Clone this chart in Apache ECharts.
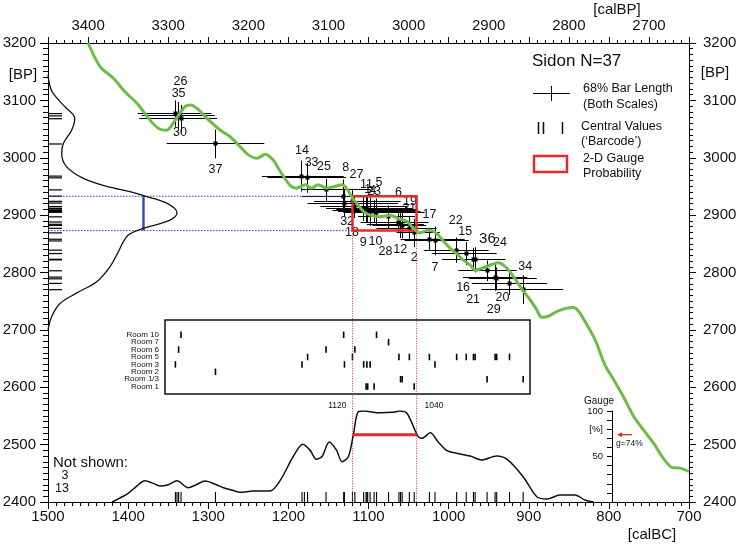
<!DOCTYPE html>
<html>
<head>
<meta charset="utf-8">
<script src="https://cdn.jsdelivr.net/npm/echarts@6/dist/echarts.min.js"></script>
<style>
  html, body { margin: 0; padding: 0; background: #fff; }
  #chart { width: 739px; height: 546px; }
</style>
</head>
<body>
<div id="chart"></div>
<script>
const FONT = '"Liberation Sans", Arial, sans-serif'

// calibration curve (green), calBC vs BP
const calCurveBC = [1450,1435,1418,1404,1389,1373,1362,1352,1341,1329,1322,1314,1302,1285,1273,1260,1250,1239,1229,1219,1210,1198,1190,1179,1171,1163,1152,1142,1133,1127,1121,1115,1106,1098,1086,1073,1063,1052,1044,1036,1025,1015,1006,998,990,982,973,967,959,948,938,929,919,909,898,890,884,875,865,855,844,838,832,817,805,794,782,769,757,744,732,721,711,700]
const calCurveBP = [3200,3159,3138,3115,3095,3066,3051,3048,3066,3089,3092,3086,3069,3048,3037,3019,3005,2999,3006,2996,2976,2952,2947,2953,2947,2953,2947,2950,2953,2946,2932,2921,2906,2900,2897,2900,2894,2889,2877,2869,2874,2868,2854,2842,2833,2822,2813,2804,2807,2813,2817,2810,2793,2772,2752,2735,2722,2724,2732,2737,2739,2733,2720,2682,2639,2613,2584,2549,2526,2502,2476,2460,2459,2453]

// samples (shown): central calBC, central BP, 68% calBC range, BP error, room
const sampleIds    = [26,35,30,37,14,33,25,8,27,11,5,4,32,18,1,9,23,10,6,19,28,12,31,2,17,7,22,15,36,24,16,21,29,20,34]
const sampleBC     = [1341,1337,1334,1291,1183,1176,1153,1131,1130,1120,1117,1106,1103,1102,1101,1098,1093,1090,1075,1062,1060,1058,1049,1043,1024,1017,990,978,969,967,952,942,940,924,907]
const sampleBP     = [3077,3073,3068,3024,2968,2965,2944,2933,2921,2924,2915,2912,2911,2908,2909,2906,2906,2905,2897,2888,2884,2882,2877,2869,2858,2855,2839,2833,2823,2822,2803,2792,2789,2781,2770]
const sampleBCLow  = [1388,1383,1386,1352,1233,1226,1183,1183,1176,1168,1160,1153,1150,1145,1140,1138,1135,1130,1113,1110,1102,1095,1090,1065,1060,1055,1031,1021,1008,1005,988,982,975,971,959]
const sampleBCHigh = [1296,1292,1289,1230,1131,1128,1098,1079,1063,1060,1052,1046,1045,1040,1038,1036,1035,1030,1042,1025,1031,1028,1015,1011,980,975,950,940,929,930,915,902,890,877,857]
const sampleBPErr  = [23,24,24,25,27,26,19,29,24,22,20,22,21,20,22,25,20,24,20,18,24,22,20,25,20,25,22,20,20,22,18,24,20,20,25]
const sampleRoom   = ['3','6','10','2','3','5','6','10','3','5','6','3','1','3','1','3','1','10','7','5','1/3','1/3','5','1','5','3','5','5','5','5','1/3','5','5','5','1/3']

// samples not drawn as crosses, only in the calBC barcode
const notShownIds = [3, 13]
const notShownBC = [1339, 1180]

const rooms = ['1', '1/3', '2', '3', '5', '6', '7', '10']

// summed probability on the calBC scale (bottom), 0-100
const sumBCYear  = [1420,1400,1390,1379,1370,1360,1350,1339,1325,1315,1304,1290,1281,1270,1260,1244,1223,1210,1194,1182,1173,1165,1158,1149,1140,1133,1125,1119,1113,1106,1086,1070,1061,1052,1038,1033,1023,1013,1002,990,973,959,940,927,907,890,877,861,842,830,819]
const sumBCLevel = [0,9.5,17,23.4,21,17.6,19,23.4,15.7,19,23,19,15.7,13,10.6,12,12,24,50,63.4,57,47,50,66,57,44.3,50,73.6,99,100,98,98.5,100,97.5,71.8,70,76,66,56.4,53.5,50.5,46.2,50.5,46.8,27.8,5.8,3.3,7.7,7.7,2.2,0]

// summed probability on the BP scale (left), 0-100
const sumBPYear  = [3145,3125,3112,3089,3069,3048,3025,3008,2984,2964,2950,2941,2934,2921,2904,2893,2884,2874,2865,2852,2836,2810,2784,2764,2746,2723,2700]
const sumBPLevel = [0,1.5,4,13,20.7,18.3,11.9,10.6,14.5,27.4,45.5,63.6,74,92,100,96,85,70,62,58,54.5,48,37.7,22,9.3,2.8,0]

// 2-D gauge box
const gaugeRangeBC = [1120, 1040]
const gaugeRangeBP = [2933, 2873]
const gaugeValue = 74
const bpRangeLevel = 74

// label placement around each cross (px)
const labelOffset = {
  26: [5, -32], 35: [0, -22], 30: [-1, 14], 37: [0, 26], 14: [0, -26], 33: [4, -15],
  25: [-2, -23], 8: [2, -29], 27: [12, -29], 11: [14, -17], 5: [24, -24], 4: [9, -18],
  32: [-19, 13], 18: [-15, 22], 9: [-7, 31], 10: [-1, 29], 6: [10, -24], 19: [11, -20],
  28: [-15, 27], 12: [-2, 24], 2: [0, 25], 17: [0, -25], 7: [0, 27], 22: [-1, -30],
  15: [-1, -22], 36: [14, -20], 24: [25, -17], 16: [-24, 17], 21: [-22, 22], 29: [-3, 31],
  20: [-7, 14], 34: [2, -23]
}

// layout
const W = 739, H = 546
const G = { left: 48, right: 50, top: 43, bottom: 44 }
const pxPerYear = (W - G.left - G.right) / 800
const bcAt = px => 1500 - (px - G.left) / pxPerYear
const roomBox = { left: 165, top: 320, width: 365, height: 74 }
const RED = '#e62a2a'
const GREEN = '#6bbd45'

const zip = (a, b) => a.map((v, i) => [v, b[i]])
const crisp = v => Math.round(v - 0.5) + 0.5
const lineStyleBlack = { color: '#000', width: 1 }

const chart = echarts.init(document.getElementById('chart'))

const bpAxis = (pos, margin, tick) => ({
  gridIndex: 0, type: 'value', position: pos, min: 2400, max: 3200, interval: 100,
  axisLine: { show: true, lineStyle: lineStyleBlack },
  axisTick: { show: true, length: tick, lineStyle: lineStyleBlack },
  minorTick: { show: true, splitNumber: 10, length: tick - 3, lineStyle: lineStyleBlack },
  axisLabel: { fontSize: 15, color: '#111', fontFamily: FONT, margin: margin, formatter: v => String(v) },
  splitLine: { show: false }, minorSplitLine: { show: false }
})

const hidden = (grid, min, max, inverse) => ({
  gridIndex: grid, type: 'value', min: min, max: max, inverse: !!inverse, show: false,
  splitLine: { show: false }
})

function renderSample(params, api) {
  const bc = api.value(0), bp = api.value(1), err = api.value(4)
  const c = api.coord([bc, bp])
  const lo = api.coord([api.value(2), bp])
  const hi = api.coord([api.value(3), bp])
  const top = api.coord([bc, bp + err])
  const bot = api.coord([bc, bp - err])
  const id = sampleIds[params.dataIndex]
  const off = labelOffset[id] || [0, -20]
  const cx = crisp(c[0]), cy = crisp(c[1])
  return {
    type: 'group',
    children: [
      { type: 'line', shape: { x1: lo[0], y1: cy, x2: hi[0], y2: cy }, style: { stroke: '#000', lineWidth: 1 } },
      { type: 'line', shape: { x1: cx, y1: top[1], x2: cx, y2: bot[1] }, style: { stroke: '#000', lineWidth: 1 } },
      { type: 'rect', shape: { x: cx - 2, y: cy - 2, width: 4, height: 4 }, style: { fill: '#000' } },
      {
        type: 'text', x: c[0] + off[0], y: c[1] + off[1],
        style: { text: String(id), fill: '#111', fontSize: id === 36 ? 15 : 12.5, fontFamily: FONT, align: 'center', verticalAlign: 'middle' }
      }
    ]
  }
}

function renderGaugeBox(params, api) {
  const p1 = api.coord([gaugeRangeBC[0], gaugeRangeBP[0]])
  const p2 = api.coord([gaugeRangeBC[1], gaugeRangeBP[1]])
  const base = api.coord([gaugeRangeBC[0], 2400])
  const left = api.coord([1500, gaugeRangeBP[0]])
  const blue = { stroke: '#2b3cc8', lineWidth: 1, lineDash: [1.5, 1.5] }
  const redDot = { stroke: RED, lineWidth: 1, lineDash: [1, 1.5] }
  return {
    type: 'group',
    children: [
      { type: 'line', shape: { x1: left[0], y1: p1[1], x2: p1[0], y2: p1[1] }, style: blue },
      { type: 'line', shape: { x1: left[0], y1: p2[1], x2: p1[0], y2: p2[1] }, style: blue },
      { type: 'line', shape: { x1: p1[0], y1: p2[1], x2: p1[0], y2: base[1] }, style: redDot },
      { type: 'line', shape: { x1: p2[0], y1: p2[1], x2: p2[0], y2: base[1] }, style: redDot },
      { type: 'rect', shape: { x: p1[0], y: p1[1], width: p2[0] - p1[0], height: p2[1] - p1[1] }, style: { fill: 'rgba(0,0,0,0)', stroke: RED, lineWidth: 2.5 } }
    ]
  }
}

const vTick = (len, width) => (params, api) => {
  const c = api.coord([api.value(0), api.value(1)])
  return { type: 'line', shape: { x1: c[0], y1: c[1] - len / 2, x2: c[0], y2: c[1] + len / 2 }, style: { stroke: '#000', lineWidth: width } }
}

const option = {
  animation: false,
  backgroundColor: '#fff',
  textStyle: { fontFamily: FONT },
  grid: [
    { left: G.left, right: G.right, top: G.top, bottom: G.bottom, outerBoundsMode: 'none' },
    { left: G.left, right: G.right, top: 411, bottom: G.bottom, outerBoundsMode: 'none' },
    { left: roomBox.left, top: roomBox.top, width: roomBox.width, height: roomBox.height, show: true, borderColor: '#111', borderWidth: 1.5, backgroundColor: 'rgba(0,0,0,0)', outerBoundsMode: 'none' },
    { left: G.left, top: G.top, bottom: G.bottom, width: 129, outerBoundsMode: 'none' },
    { left: 612, top: 411, bottom: G.bottom, width: 1, outerBoundsMode: 'none' }
  ],
  xAxis: [
    {
      gridIndex: 0, type: 'value', position: 'bottom', min: 700, max: 1500, interval: 100, inverse: true,
      axisLine: { show: true, lineStyle: lineStyleBlack },
      axisTick: { show: true, length: 7, lineStyle: lineStyleBlack },
      minorTick: { show: true, splitNumber: 10, length: 4, lineStyle: lineStyleBlack },
      axisLabel: { fontSize: 15, color: '#111', fontFamily: FONT, margin: 7, formatter: v => String(v) },
      splitLine: { show: false }, minorSplitLine: { show: false }
    },
    {
      gridIndex: 0, type: 'value', position: 'top', min: 2650, max: 3450, interval: 50, inverse: true,
      axisLine: { show: true, lineStyle: lineStyleBlack },
      axisTick: { show: true, length: 6, lineStyle: lineStyleBlack },
      minorTick: { show: true, splitNumber: 5, length: 3, lineStyle: lineStyleBlack },
      axisLabel: { fontSize: 15, color: '#111', fontFamily: FONT, margin: 10, formatter: v => (v % 100 === 0 ? String(v) : '') },
      splitLine: { show: false }, minorSplitLine: { show: false }
    },
    hidden(1, 700, 1500, true),
    hidden(2, bcAt(roomBox.left + roomBox.width), bcAt(roomBox.left), true),
    hidden(3, 0, 100),
    hidden(4, 0, 1)
  ],
  yAxis: [
    bpAxis('left', 12, 8),
    bpAxis('right', 14, 7),
    hidden(1, 0, 100),
    {
      gridIndex: 2, type: 'value', min: 0, max: 10, interval: 1,
      axisLine: { show: false }, axisTick: { show: false }, splitLine: { show: false },
      axisLabel: { fontSize: 8, color: '#111', fontFamily: FONT, margin: 6, formatter: v => (v >= 1 && v <= rooms.length ? 'Room ' + rooms[v - 1] : '') }
    },
    hidden(3, 2400, 3200),
    {
      gridIndex: 4, type: 'value', min: 0, max: 100, interval: 10, position: 'left',
      name: 'Gauge', nameLocation: 'end', nameGap: 5,
      nameTextStyle: { fontSize: 10, color: '#111', fontFamily: FONT, align: 'right', padding: [0, -2, 0, 0] },
      axisLine: { show: true, lineStyle: lineStyleBlack },
      axisTick: { show: true, length: 5, lineStyle: lineStyleBlack },
      axisLabel: { fontSize: 9.5, color: '#111', fontFamily: FONT, margin: 9, formatter: v => ({ 100: '100', 80: '[%]', 50: '50' }[v] || '') },
      splitLine: { show: false }
    }
  ],
  series: [
    {
      name: 'calibration', type: 'line', xAxisIndex: 0, yAxisIndex: 0,
      data: zip(calCurveBC, calCurveBP), symbol: 'none', smooth: 0.3, clip: true,
      lineStyle: { color: GREEN, width: 3 }
    },
    {
      name: 'sum BP', type: 'line', xAxisIndex: 4, yAxisIndex: 4,
      data: zip(sumBPLevel, sumBPYear), symbol: 'none', smooth: 0.35,
      lineStyle: { color: '#111', width: 1.3 }
    },
    {
      name: 'BP barcode', type: 'custom', xAxisIndex: 4, yAxisIndex: 4,
      data: sampleBP.map(v => [0, v]),
      renderItem: (params, api) => {
        const c = api.coord([0, api.value(1)])
        return { type: 'line', shape: { x1: c[0], y1: c[1], x2: c[0] + 14, y2: c[1] }, style: { stroke: '#000', lineWidth: 1.2 } }
      }
    },
    {
      name: 'BP range', type: 'custom', xAxisIndex: 4, yAxisIndex: 4,
      data: [[bpRangeLevel, gaugeRangeBP[0], gaugeRangeBP[1]]],
      renderItem: (params, api) => {
        const a = api.coord([api.value(0), api.value(1)])
        const b = api.coord([api.value(0), api.value(2)])
        return { type: 'line', shape: { x1: a[0], y1: a[1], x2: b[0], y2: b[1] }, style: { stroke: '#3350b8', lineWidth: 2.5 } }
      }
    },
    {
      name: 'sum calBC', type: 'line', xAxisIndex: 2, yAxisIndex: 2,
      data: zip(sumBCYear, sumBCLevel), symbol: 'none', smooth: 0.3,
      lineStyle: { color: '#111', width: 1.5 }
    },
    {
      name: 'calBC barcode', type: 'custom', xAxisIndex: 2, yAxisIndex: 2,
      data: sampleBC.concat(notShownBC).map(v => [v, 0]),
      renderItem: (params, api) => {
        const c = api.coord([api.value(0), 0])
        return { type: 'line', shape: { x1: c[0], y1: c[1], x2: c[0], y2: c[1] - 10 }, style: { stroke: '#000', lineWidth: 1.1 } }
      }
    },
    {
      name: 'calBC range', type: 'line', xAxisIndex: 2, yAxisIndex: 2,
      data: gaugeRangeBC.map(v => [v, gaugeValue]), symbol: 'none',
      lineStyle: { color: RED, width: 3 }
    },
    {
      name: 'range labels', type: 'custom', xAxisIndex: 2, yAxisIndex: 2,
      data: gaugeRangeBC.map(v => [v, 100]),
      renderItem: (params, api) => {
        const c = api.coord([api.value(0), api.value(1)])
        const first = params.dataIndex === 0
        return {
          type: 'text', x: c[0] + (first ? -6 : 8), y: c[1] - 5,
          style: { text: String(api.value(0)), fill: '#111', fontSize: 8.5, fontFamily: FONT, align: first ? 'right' : 'left', verticalAlign: 'middle' }
        }
      }
    },
    {
      name: 'rooms', type: 'custom', xAxisIndex: 3, yAxisIndex: 3,
      data: sampleBC.map((v, i) => [v, rooms.indexOf(sampleRoom[i]) + 1]),
      renderItem: vTick(6.5, 1.6)
    },
    {
      name: 'gauge box', type: 'custom', xAxisIndex: 0, yAxisIndex: 0, clip: false,
      data: [[gaugeRangeBC[0], gaugeRangeBP[0]]], renderItem: renderGaugeBox, z: 3
    },
    {
      name: 'samples', type: 'custom', xAxisIndex: 0, yAxisIndex: 0, clip: false,
      data: sampleIds.map((id, i) => [sampleBC[i], sampleBP[i], sampleBCLow[i], sampleBCHigh[i], sampleBPErr[i]]),
      encode: { x: 0, y: 1 },
      renderItem: renderSample
    },
    {
      name: 'gauge arrow', type: 'custom', xAxisIndex: 5, yAxisIndex: 5, clip: false,
      data: [[0, gaugeValue]],
      renderItem: (params, api) => {
        const c = api.coord([0, api.value(1)])
        return {
          type: 'group',
          children: [
            { type: 'line', shape: { x1: c[0] + 20, y1: c[1], x2: c[0] + 8, y2: c[1] }, style: { stroke: RED, lineWidth: 1.3 } },
            { type: 'polygon', shape: { points: [[c[0] + 5, c[1]], [c[0] + 10, c[1] - 2.5], [c[0] + 10, c[1] + 2.5]] }, style: { fill: RED } },
            { type: 'text', x: c[0] + 4, y: c[1] + 9, style: { text: 'g=' + api.value(1) + '%', fill: '#111', fontSize: 8.5, fontFamily: FONT, align: 'left', verticalAlign: 'middle' } }
          ]
        }
      }
    }
  ],
  graphic: [
    { type: 'text', x: 617, y: 10, style: { text: '[calBP]', fontSize: 15, fontFamily: FONT, fill: '#111', align: 'center', verticalAlign: 'middle' } },
    { type: 'text', x: 652, y: 535, style: { text: '[calBC]', fontSize: 15, fontFamily: FONT, fill: '#111', align: 'center', verticalAlign: 'middle' } },
    { type: 'text', x: 23, y: 75, style: { text: '[BP]', fontSize: 15, fontFamily: FONT, fill: '#111', align: 'center', verticalAlign: 'middle' } },
    { type: 'text', x: 715, y: 73, style: { text: '[BP]', fontSize: 15, fontFamily: FONT, fill: '#111', align: 'center', verticalAlign: 'middle' } },
    { type: 'text', x: 53, y: 463, style: { text: 'Not shown:', fontSize: 15, fontFamily: FONT, fill: '#111', align: 'left', verticalAlign: 'middle' } },
    { type: 'text', x: 65, y: 476, style: { text: String(notShownIds[0]), fontSize: 12.5, fontFamily: FONT, fill: '#111', align: 'center', verticalAlign: 'middle' } },
    { type: 'text', x: 62, y: 489, style: { text: String(notShownIds[1]), fontSize: 12.5, fontFamily: FONT, fill: '#111', align: 'center', verticalAlign: 'middle' } },
    // legend
    { type: 'text', x: 532, y: 61, style: { text: 'Sidon N=' + (sampleIds.length + notShownIds.length), fontSize: 17, fontFamily: FONT, fill: '#111', align: 'left', verticalAlign: 'middle' } },
    { type: 'line', shape: { x1: 533, y1: 93.5, x2: 570, y2: 93.5 }, style: { stroke: '#000', lineWidth: 1 } },
    { type: 'line', shape: { x1: 551.5, y1: 86, x2: 551.5, y2: 101 }, style: { stroke: '#000', lineWidth: 1 } },
    { type: 'text', x: 583, y: 89, style: { text: '68% Bar Length', fontSize: 12.5, fontFamily: FONT, fill: '#111', align: 'left', verticalAlign: 'middle' } },
    { type: 'text', x: 583, y: 105, style: { text: '(Both Scales)', fontSize: 12.5, fontFamily: FONT, fill: '#111', align: 'left', verticalAlign: 'middle' } },
    { type: 'line', shape: { x1: 538.5, y1: 122, x2: 538.5, y2: 134 }, style: { stroke: '#000', lineWidth: 1.5 } },
    { type: 'line', shape: { x1: 543.5, y1: 122, x2: 543.5, y2: 134 }, style: { stroke: '#000', lineWidth: 1.5 } },
    { type: 'line', shape: { x1: 562.5, y1: 122, x2: 562.5, y2: 134 }, style: { stroke: '#000', lineWidth: 1.5 } },
    { type: 'text', x: 581, y: 127, style: { text: 'Central Values', fontSize: 12.5, fontFamily: FONT, fill: '#111', align: 'left', verticalAlign: 'middle' } },
    { type: 'text', x: 581, y: 142, style: { text: '(\u2018Barcode\u2019)', fontSize: 12.5, fontFamily: FONT, fill: '#111', align: 'left', verticalAlign: 'middle' } },
    { type: 'rect', shape: { x: 534, y: 156, width: 33, height: 16 }, style: { fill: 'rgba(0,0,0,0)', stroke: RED, lineWidth: 2.5 } },
    { type: 'text', x: 583, y: 159, style: { text: '2-D Gauge', fontSize: 12.5, fontFamily: FONT, fill: '#111', align: 'left', verticalAlign: 'middle' } },
    { type: 'text', x: 583, y: 174, style: { text: 'Probability', fontSize: 12.5, fontFamily: FONT, fill: '#111', align: 'left', verticalAlign: 'middle' } }
  ]
}

chart.setOption(option)
</script>
</body>
</html>
